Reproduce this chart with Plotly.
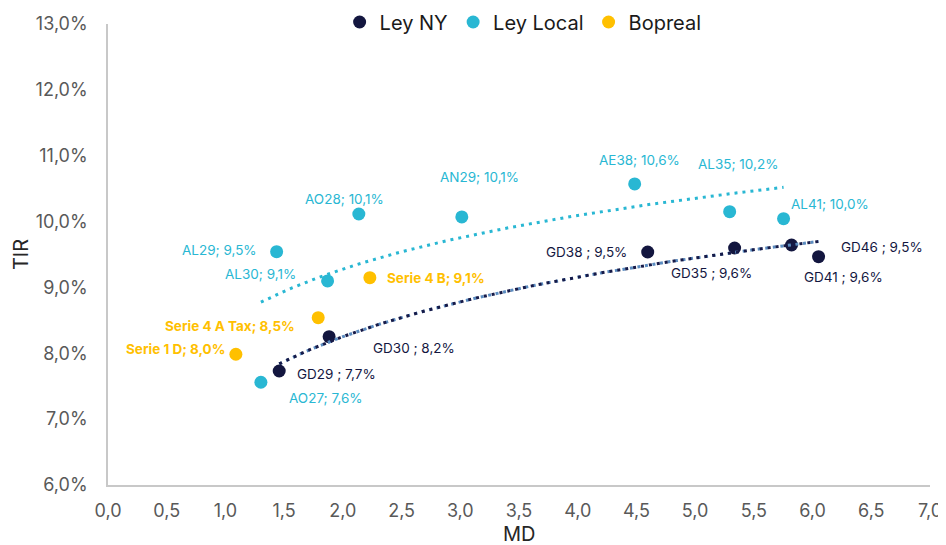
import numpy as np
import plotly.graph_objects as go

# ---------------- data ----------------
ny_names = ["GD29", "GD30", "GD38", "GD35", "GD41", "GD46"]
ny_md = [1.458, 1.883, 4.596, 5.336, 5.821, 6.051]
ny_tir = [7.731, 8.252, 9.538, 9.599, 9.644, 9.467]
ny_lbl = ["7,7%", "8,2%", "9,5%", "9,6%", "9,6%", "9,5%"]

loc_names = ["AO27", "AL29", "AL30", "AO28", "AN29", "AE38", "AL35", "AL41"]
loc_md = [1.302, 1.436, 1.870, 2.136, 3.013, 4.485, 5.294, 5.753]
loc_tir = [7.560, 9.543, 9.098, 10.115, 10.070, 10.571, 10.150, 10.044]
loc_lbl = ["7,6%", "9,5%", "9,1%", "10,1%", "10,1%", "10,6%", "10,2%", "10,0%"]

bop_names = ["Serie 1 D", "Serie 4 A Tax", "Serie 4 B"]
bop_md = [1.089, 1.790, 2.230]
bop_tir = [7.985, 8.540, 9.148]
bop_lbl = ["8,0%", "8,5%", "9,1%"]

x_ticks = [0, 0.5, 1, 1.5, 2, 2.5, 3, 3.5, 4, 4.5, 5, 5.5, 6, 6.5, 7]
x_tick_text = ["0,0", "0,5", "1,0", "1,5", "2,0", "2,5", "3,0", "3,5",
               "4,0", "4,5", "5,0", "5,5", "6,0", "6,5", "7,0"]
y_ticks = [6, 7, 8, 9, 10, 11, 12, 13]
y_tick_text = ["6,0%", "7,0%", "8,0%", "9,0%", "10,0%", "11,0%", "12,0%", "13,0%"]

# label offsets in pixels (dx right, dy down) of label centre from point
ny_off = [(57, 3), (85, 11), (-61, 0), (-23, 25), (52, 32), (63, -10)]
loc_off = [(65, 16), (-57, -2), (-67, -7), (-14, -15), (18, -40), (5, -24), (8, -48), (46, -15)]
bop_off = [(-60, -5), (-88, 8), (66, 0)]

NAVY = "#13163f"
CYAN = "#29b7d3"
GOLD = "#ffc000"
STEEL = "#5b8cc0"
FONT = "Inter"

fig = go.Figure()

def add_series(name, xs, ys, color):
    fig.add_trace(go.Scatter(x=xs, y=ys, mode="markers", name=name,
                             marker=dict(color=color, size=13, line=dict(width=0)),
                             hoverinfo="skip"))

add_series("Ley NY", ny_md, ny_tir, NAVY)
add_series("Ley Local", loc_md, loc_tir, CYAN)
add_series("Bopreal", bop_md, bop_tir, GOLD)

def add_trend(xs, ys, color, dash="3px,5px"):
    xs = np.array(xs); ys = np.array(ys)
    b, a = np.polyfit(np.log(xs), ys, 1)
    xx = np.linspace(xs.min(), xs.max(), 100)
    fig.add_trace(go.Scatter(x=xx, y=a + b * np.log(xx), mode="lines", showlegend=False,
                             line=dict(color=color, width=3, dash=dash),
                             hoverinfo="skip"))

add_trend(loc_md, loc_tir, CYAN)
add_trend(ny_md, ny_tir, STEEL, dash="3px,4.6px")
add_trend(ny_md, ny_tir, "#161a48")

def add_labels(names, xs, ys, lbls, offs, color, sep, bold=False):
    for n, x, y, l, (dx, dy) in zip(names, xs, ys, lbls, offs):
        t = f"{n}{sep}{l}"
        if bold:
            t = f"<b>{t}</b>"
        fig.add_annotation(x=x, y=y, xref="x", yref="y", text=t, showarrow=False,
                           xshift=dx, yshift=-dy, xanchor="center", yanchor="middle",
                           font=dict(family=FONT, size=13.5, color=color))

add_labels(ny_names, ny_md, ny_tir, ny_lbl, ny_off, NAVY, " ; ")
add_labels(loc_names, loc_md, loc_tir, loc_lbl, loc_off, CYAN, "; ")
add_labels(bop_names, bop_md, bop_tir, bop_lbl, bop_off, GOLD, "; ", bold=True)

# x-axis title
fig.add_annotation(x=0.5, y=0, xref="paper", yref="paper", text="MD", showarrow=False,
                   xanchor="center", yanchor="middle", yshift=-49,
                   font=dict(family=FONT, size=20, color="#262626"))

# page body has an 8px default margin: figure sized to fill the rest of the window
fig.update_layout(
    width=938, height=537,
    margin=dict(l=100, r=16, t=16, b=60, autoexpand=False),
    paper_bgcolor="white", plot_bgcolor="white",
    font=dict(family=FONT, color="#595959"),
    showlegend=True,
    legend=dict(orientation="h", x=0.505, xanchor="center",
                yref="container", y=1 - 14 / 537, yanchor="middle",
                font=dict(family=FONT, size=20, color="#1a1a1a"),
                bgcolor="rgba(0,0,0,0)", itemclick=False),
    xaxis=dict(range=[0, 7], tickvals=x_ticks, ticktext=x_tick_text, automargin=False,
               showgrid=False, zeroline=False, showline=True, linecolor="#c8c8c8", linewidth=1.5,
               ticks="", tickfont=dict(family=FONT, size=18, color="#595959"),
               ticklabelstandoff=9),
    yaxis=dict(range=[6, 13], tickvals=y_ticks, ticktext=y_tick_text, automargin=False,
               showgrid=False, zeroline=False, showline=True, linecolor="#c8c8c8", linewidth=1.5,
               ticks="", tickfont=dict(family=FONT, size=18, color="#595959"),
               ticklabelstandoff=15,
               title=dict(text="TIR", font=dict(family=FONT, size=20, color="#262626"), standoff=2)),
)

fig.write_html("out.html")
